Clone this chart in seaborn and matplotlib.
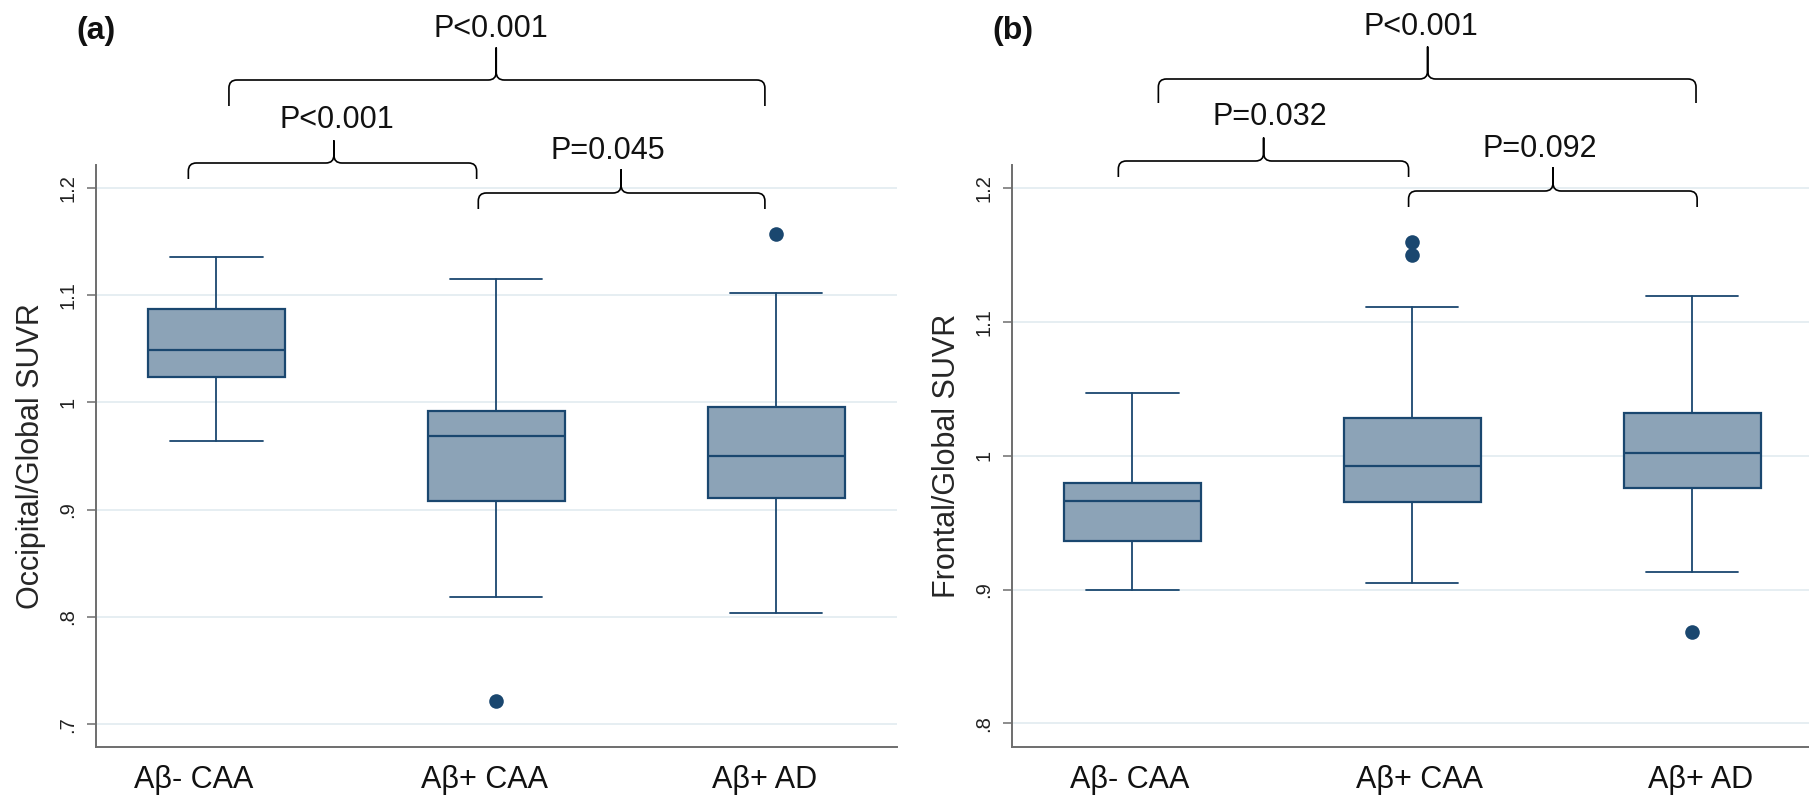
import matplotlib
matplotlib.use("Agg")
import matplotlib.pyplot as plt
import seaborn as sns
import pandas as pd
from matplotlib.path import Path
from matplotlib.patches import PathPatch
from matplotlib import transforms

# ---------------- data ----------------
categories = ["Aβ- CAA", "Aβ+ CAA", "Aβ+ AD"]

# (a) Occipital/Global SUVR five-number summaries
occ_whislo = [0.9644, 0.8187, 0.8037]
occ_q1 = [1.0237, 0.9080, 0.9105]
occ_med = [1.0488, 0.9682, 0.9498]
occ_q3 = [1.0870, 0.9923, 0.9952]
occ_whishi = [1.1355, 1.1144, 1.1020]
occ_out_group = ["Aβ+ CAA", "Aβ+ AD"]
occ_out_value = [0.7215, 1.1565]

# (b) Frontal/Global SUVR five-number summaries
fro_whislo = [0.9000, 0.9046, 0.9133]
fro_q1 = [0.9362, 0.9655, 0.9755]
fro_med = [0.9657, 0.9922, 1.0020]
fro_q3 = [0.9797, 1.0278, 1.0321]
fro_whishi = [1.0470, 1.1110, 1.1190]
fro_out_group = ["Aβ+ CAA", "Aβ+ CAA", "Aβ+ AD"]
fro_out_value = [1.1594, 1.1499, 0.8685]

occ_ticks = [0.7, 0.8, 0.9, 1.0, 1.1, 1.2]
occ_ticklabels = [".7", ".8", ".9", "1", "1.1", "1.2"]
fro_ticks = [0.8, 0.9, 1.0, 1.1, 1.2]
fro_ticklabels = [".8", ".9", "1", "1.1", "1.2"]

pvals_a = ["P<0.001", "P<0.001", "P=0.045"]   # top (1 vs 3), 1 vs 2, 2 vs 3
pvals_b = ["P<0.001", "P=0.032", "P=0.092"]

# ---------------- style ----------------
sns.set_theme(style="white")
plt.rcParams["font.family"] = ["Liberation Sans", "DejaVu Sans"]

W, H = 1809, 805
fig = plt.figure(figsize=(W / 100, H / 100), dpi=100)
fig.patch.set_facecolor("white")

NAVY = "#1a476f"
FILL = "#8ca3b7"
GRID = "#e6eef2"
SPINE = "#6e6e6e"
XLIM = (-0.43, 2.432)


def make_axes(left_px):
    ax = fig.add_axes([left_px / W, 1 - 747.3 / H, 801 / W, (747.3 - 164.6) / H])
    return ax


def brace(ax, x0, x1, xt, y_h, y_end, y_tip, r=8):
    ppu = 801 / (XLIM[1] - XLIM[0])
    rx = r / ppu
    f = lambda ypx: 1 - ypx / H
    verts = [
        (x0, f(y_end)), (x0, f(y_h + r)),
        (x0, f(y_h)), (x0 + rx, f(y_h)),
        (xt - rx, f(y_h)),
        (xt, f(y_h)), (xt, f(y_h - r)),
        (xt, f(y_tip)),
        (xt, f(y_h - r)),
        (xt, f(y_h)), (xt + rx, f(y_h)),
        (x1 - rx, f(y_h)),
        (x1, f(y_h)), (x1, f(y_h + r)),
        (x1, f(y_end)),
    ]
    codes = [Path.MOVETO, Path.LINETO,
             Path.CURVE3, Path.CURVE3,
             Path.LINETO,
             Path.CURVE3, Path.CURVE3,
             Path.LINETO,
             Path.LINETO,
             Path.CURVE3, Path.CURVE3,
             Path.LINETO,
             Path.CURVE3, Path.CURVE3,
             Path.LINETO]
    tr = transforms.blended_transform_factory(ax.transData, fig.transFigure)
    patch = PathPatch(Path(verts, codes), facecolor="none", edgecolor="black",
                      lw=1.2, transform=tr, clip_on=False, capstyle="butt",
                      joinstyle="round")
    fig.add_artist(patch)


def panel(ax, whislo, q1, med, q3, whishi, out_group, out_value,
          ticks, ticklabels, ylim, ylabel, label_shift):
    stats = []
    for i in range(len(categories)):
        stats.append(dict(med=med[i], q1=q1[i], q3=q3[i],
                          whislo=whislo[i], whishi=whishi[i], fliers=[]))
    ax.bxp(stats, positions=list(range(len(categories))), widths=0.49,
           capwidths=0.33, patch_artist=True, showfliers=False,
           manage_ticks=False,
           boxprops=dict(facecolor=FILL, edgecolor=NAVY, linewidth=1.6),
           medianprops=dict(color=NAVY, linewidth=1.6),
           whiskerprops=dict(color=NAVY, linewidth=1.3),
           capprops=dict(color=NAVY, linewidth=1.3))
    df = pd.DataFrame({"group": out_group, "value": out_value})
    sns.stripplot(data=df, x="group", y="value", order=categories,
                  jitter=False, color=NAVY, size=10.5, linewidth=0, ax=ax,
                  zorder=5)
    ax.set_xlim(*XLIM)
    ax.set_ylim(*ylim)
    ax.set_yticks(ticks)
    ax.set_yticklabels(ticklabels, rotation=90, va="center")
    ax.set_xticks(range(len(categories)))
    ax.set_xticklabels(categories)
    ax.set_xlabel("")
    ax.set_ylabel(ylabel, fontsize=22)
    ax.yaxis.set_label_coords(-0.062, 0.5)
    ax.grid(axis="y", color=GRID, lw=1.4)
    ax.grid(axis="x", visible=False)
    ax.set_axisbelow(True)
    for s in ["top", "right"]:
        ax.spines[s].set_visible(False)
    for s in ["left", "bottom"]:
        ax.spines[s].set_color(SPINE)
        ax.spines[s].set_linewidth(1.4)
    ax.tick_params(axis="y", which="major", left=True, length=6.5, width=1.1,
                   color=SPINE, labelsize=14.5, pad=7, labelcolor="#222222")
    ax.tick_params(axis="x", which="major", bottom=False, length=0,
                   labelsize=22, pad=13, labelcolor="#111111")
    for lab, dx in zip(ax.get_xticklabels(), label_shift):
        lab.set_transform(lab.get_transform() +
                          transforms.ScaledTranslation(dx / 100, 0,
                                                       fig.dpi_scale_trans))


ax_a = make_axes(96)
panel(ax_a, occ_whislo, occ_q1, occ_med, occ_q3, occ_whishi, occ_out_group,
      occ_out_value, occ_ticks, occ_ticklabels, (0.6787, 1.2214),
      "Occipital/Global SUVR", [-23, -12, -12])

ax_b = make_axes(1012)
panel(ax_b, fro_whislo, fro_q1, fro_med, fro_q3, fro_whishi, fro_out_group,
      fro_out_value, fro_ticks, fro_ticklabels, (0.7822, 1.2172),
      "Frontal/Global SUVR", [-3, 7, 8])

# ---------------- brackets & p-values ----------------
def ptext(ax, x, ypx, s):
    tr = transforms.blended_transform_factory(ax.transData, fig.transFigure)
    ax.text(x, 1 - ypx / H, s, transform=tr, ha="center", va="baseline",
            fontsize=22, color="#111111", clip_on=False)

# panel a
brace(ax_a, 0.045, 1.96, 1.0, 80, 106, 48)
brace(ax_a, -0.10, 0.93, 0.42, 163, 179, 141)
brace(ax_a, 0.936, 1.96, 1.446, 193, 209, 170)
ptext(ax_a, 0.98, 37, pvals_a[0])
ptext(ax_a, 0.43, 128, pvals_a[1])
ptext(ax_a, 1.40, 159, pvals_a[2])

# panel b
brace(ax_b, 0.093, 2.014, 1.055, 79, 103, 47)
brace(ax_b, -0.05, 0.987, 0.469, 161, 177, 138)
brace(ax_b, 0.987, 2.018, 1.503, 191, 207, 168)
ptext(ax_b, 1.03, 35, pvals_b[0])
ptext(ax_b, 0.49, 125, pvals_b[1])
ptext(ax_b, 1.455, 157, pvals_b[2])

fig.text(96 / W, 1 - 39 / H, "(a)", ha="center", va="baseline",
         fontsize=23, fontweight="bold", color="#111111")
fig.text(1013 / W, 1 - 39 / H, "(b)", ha="center", va="baseline",
         fontsize=23, fontweight="bold", color="#111111")

fig.savefig("out.png", dpi=100, facecolor="white")
